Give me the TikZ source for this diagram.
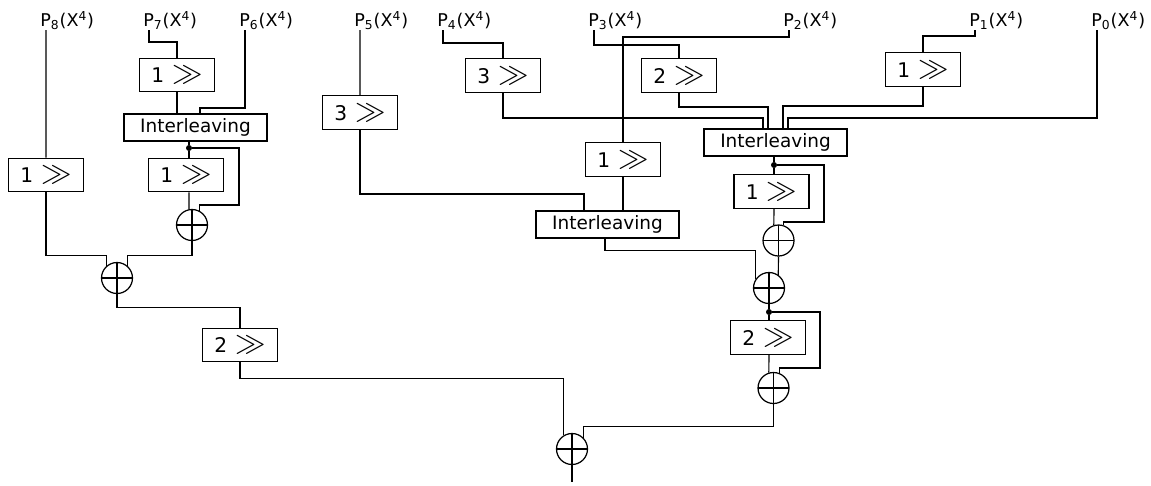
\documentclass[tikz,border=0pt]{standalone}
\usepackage{fontspec}
\setmainfont{DejaVu Sans}
\usetikzlibrary{calc}
\newcommand{\shiftby}[1]{#1\hspace{0.4em}{\fontsize{17}{17}\selectfont$\gg$}}
\newcommand{\poly}[1]{P\textsubscript{#1}(X\textsuperscript{4})}

\begin{document}
\begin{tikzpicture}[x=0.02cm, y=-0.02cm,
    wire/.style={line width=0.65pt},
    shiftbox/.style={draw, line width=0.8pt, minimum width=1.5cm, minimum height=0.67cm, inner sep=0pt, font=\fontsize{11.5}{13}\selectfont},
    interbox/.style={draw, line width=0.8pt, minimum width=2.86cm, minimum height=0.54cm, inner sep=0pt, font=\fontsize{10.5}{12}\selectfont},
    xorop/.style={circle, draw, line width=0.7pt, minimum size=0.62cm, inner sep=0pt,
      path picture={\draw[line width=0.65pt] (path picture bounding box.north) -- (path picture bounding box.south)
        (path picture bounding box.west) -- (path picture bounding box.east);}},
    joint/.style={circle, fill, inner sep=0pt, minimum size=0.12cm},
    plabel/.style={anchor=south west, inner sep=0pt, font=\fontsize{10}{12}\selectfont}
  ]
  \useasboundingbox (0,0) rectangle (1151,485);

  % inputs
  \node[plabel] (p8) at (40,30) {\poly{8}};
  \node[plabel] (p7) at (143,30) {\poly{7}};
  \node[plabel] (p6) at (239,30) {\poly{6}};
  \node[plabel] (p5) at (354,30) {\poly{5}};
  \node[plabel] (p4) at (437,30) {\poly{4}};
  \node[plabel] (p3) at (588,30) {\poly{3}};
  \node[plabel] (p2) at (783,30) {\poly{2}};
  \node[plabel] (p1) at (969,30) {\poly{1}};
  \node[plabel] (p0) at (1091,30) {\poly{0}};

  % left half
  \node[shiftbox] (b8) at (46,175) {\shiftby{1}};
  \node[shiftbox] (b7) at (177,75) {\shiftby{1}};
  \node[interbox] (i7) at (195.5,127.5) {Interleaving};
  \node[joint] (d7) at (189,148) {};
  \node[shiftbox] (c7) at (186,175) {\shiftby{1}};
  \node[xorop] (x7) at (192,225) {};
  \node[xorop] (xl) at (117,278) {};
  \node[shiftbox] (b2l) at (240,345) {\shiftby{2}};

  % right half
  \node[shiftbox] (b5) at (360,112.5) {\shiftby{3}};
  \node[shiftbox] (b4) at (503,75.5) {\shiftby{3}};
  \node[shiftbox] (b3) at (679,75.5) {\shiftby{2}};
  \node[shiftbox] (c2) at (623,159.5) {\shiftby{1}};
  \node[shiftbox] (b1) at (923,69.5) {\shiftby{1}};
  \node[interbox] (i2) at (607.5,224.5) {Interleaving};
  \node[interbox] (i3) at (775.5,142.5) {Interleaving};
  \node[joint] (d3) at (774,165) {};
  \node[shiftbox] (c3) at (771.5,191.5) {\shiftby{1}};
  \node[xorop] (x1r) at (778.5,240.5) {};
  \node[xorop] (x2r) at (769,288) {};
  \node[joint] (d2) at (769,312) {};
  \node[shiftbox] (c2r) at (768,337.5) {\shiftby{2}};
  \node[xorop] (x3r) at (773.5,388) {};
  \node[xorop] (xf) at (572,449) {};
  \coordinate (out) at (572,482);

  % wires, left half
  \draw[wire] ([xshift=0.12cm]p8.south west) -- (b8.north);
  \draw[wire] ([xshift=0.12cm]p7.south west) -- ++(0,12) -| (b7.north);
  \draw[wire] (b7.south) -- (b7.south |- i7.north);
  \draw[wire] ([xshift=0.12cm]p6.south west) -- ++(0,78) -| ($(i7.north)+(4.5,0)$);
  \draw[wire] (d7 |- i7.south) -- (d7) -- (d7 |- c7.north);
  \draw[wire] (d7 |- c7.south) -- (x7.101);
  \draw[wire] (d7) -- ++(50,0) -- ++(0,57) -| (x7.63);
  \draw[wire] (x7.south) -- ++(0,14) -| (xl.50);
  \draw[wire] (b8.south) -- ++(0,63) -| (xl.130);
  \draw[wire] (xl.south) -- ++(0,13) -| (b2l.north);
  \draw[wire] (b2l.south) -- ++(0,16) -| (xf.121);

  % wires, right half
  \draw[wire] ([xshift=0.12cm]p5.south west) -- (b5.north);
  \draw[wire] (b5.south) -- ++(0,64) -| ($(i2.north)+(-23.5,0)$);
  \draw[wire] ([xshift=0.12cm]p2.south west) -- ++(0,7) -| (c2.north);
  \draw[wire] (c2.south) -- (c2.south |- i2.north);
  \draw[wire] ([xshift=0.12cm]p4.south west) -- ++(0,13) -| (b4.north);
  \draw[wire] (b4.south) -- ++(0,25) -| ($(i3.north)+(-12.5,0)$);
  \draw[wire] ([xshift=0.12cm]p3.south west) -- ++(0,15) -| (b3.north);
  \draw[wire] (b3.south) -- ++(0,14) -| ($(i3.north)+(-7.5,0)$);
  \draw[wire] ([xshift=0.12cm]p1.south west) -- ++(0,6) -| (b1.north);
  \draw[wire] (b1.south) -- ++(0,19) -| ($(i3.north)+(7.5,0)$);
  \draw[wire] ([xshift=0.12cm]p0.south west) -- ++(0,88) -| ($(i3.north)+(12.5,0)$);
  \draw[wire] (d3 |- i3.south) -- (d3) -- (d3 |- c3.north);
  \draw[wire] (d3 |- c3.south) -- (x1r.107);
  \draw[wire] (d3) -- ++(50,0) -- ++(0,57) -| (x1r.73);
  \draw[wire] (x1r.south) -- (x2r.55);
  \draw[wire] ($(i2.south)+(-2.5,0)$) -- ++(0,12) -| (x2r.147);
  \draw[wire] (x2r.south) -- (d2) -- (d2 |- c2r.north);
  \draw[wire] (d2 |- c2r.south) -- (x3r.107);
  \draw[wire] (d2) -- ++(51,0) -- ++(0,56) -| (x3r.69);
  \draw[wire] (x3r.south) -- ++(0,22) -| (xf.45);
  \draw[wire] (xf.south) -- (out);
\end{tikzpicture}
\end{document}
